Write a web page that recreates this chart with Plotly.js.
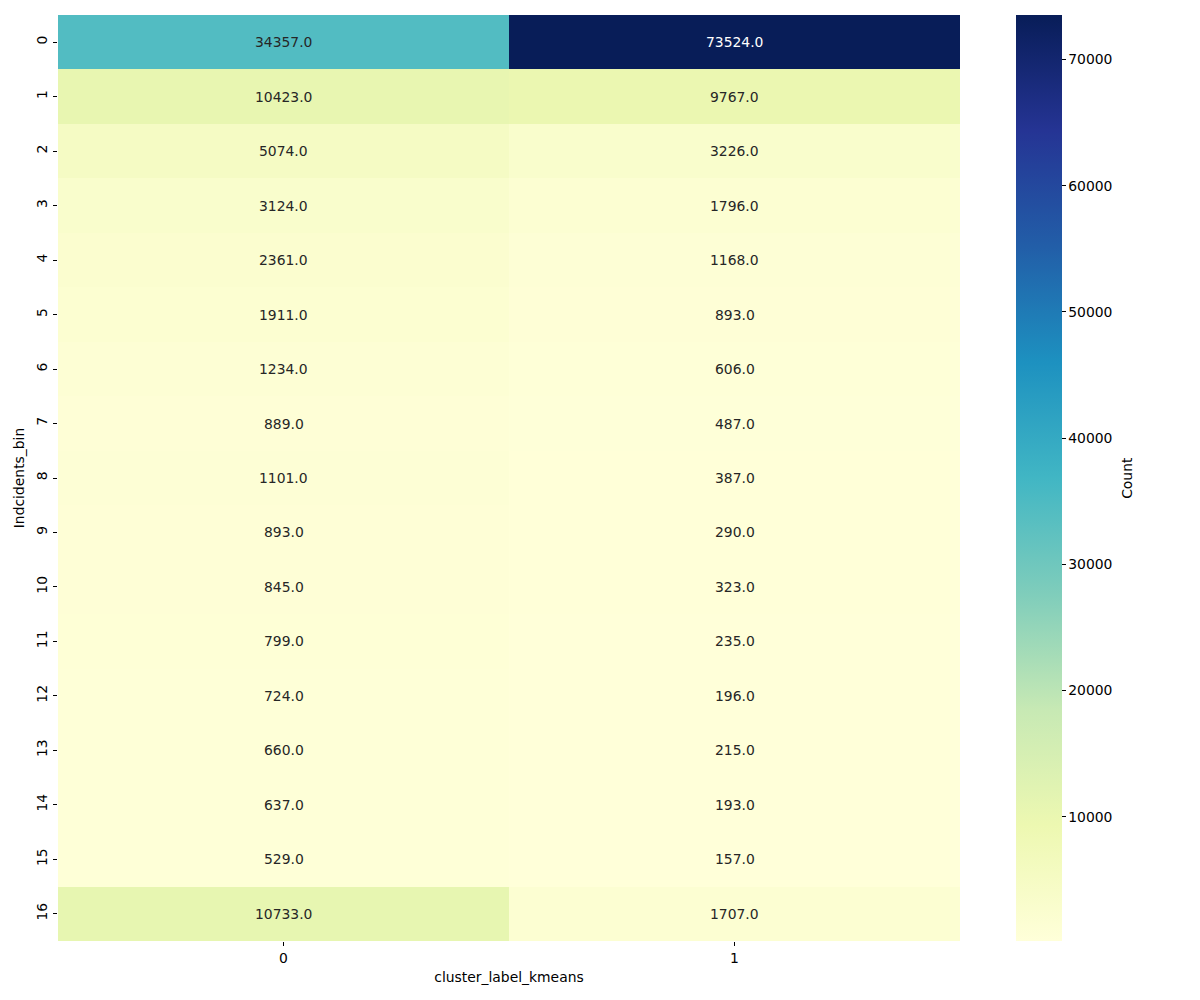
<!DOCTYPE html>
<html>
<head>
<meta charset="utf-8">
<script src="https://cdn.plot.ly/plotly-3.0.1.min.js"></script>
<style>html,body{margin:0;padding:0;background:#fff;}#chart{width:1200px;height:1000px;}</style>
</head>
<body>
<div id="chart"></div>
<script>
const clusters = ["0", "1"];
const bins = ["0","1","2","3","4","5","6","7","8","9","10","11","12","13","14","15","16"];
const cluster0 = [34357, 10423, 5074, 3124, 2361, 1911, 1234, 889, 1101, 893, 845, 799, 724, 660, 637, 529, 10733];
const cluster1 = [73524, 9767, 3226, 1796, 1168, 893, 606, 487, 387, 290, 323, 235, 196, 215, 193, 157, 1707];
const cbTicks = [10000, 20000, 30000, 40000, 50000, 60000, 70000];

const z = bins.map((b, i) => [cluster0[i], cluster1[i]]);
const allVals = cluster0.concat(cluster1);
const zmin = Math.min(...allVals);
const zmax = Math.max(...allVals);

const ylgnbu = [
  [0.0, '#ffffd9'], [0.125, '#edf8b1'], [0.25, '#c7e9b4'], [0.375, '#7fcdbb'],
  [0.5, '#41b6c4'], [0.625, '#1d91c0'], [0.75, '#225ea8'], [0.875, '#253494'], [1.0, '#081d58']
];

const FS = 13.9;
const annotations = [];
bins.forEach((b, i) => {
  [cluster0[i], cluster1[i]].forEach((v, j) => {
    const frac = (v - zmin) / (zmax - zmin);
    annotations.push({
      x: clusters[j], y: b, xref: 'x', yref: 'y',
      text: v.toFixed(1), showarrow: false,
      font: {family: 'DejaVu Sans', size: FS, color: frac > 0.6 ? '#ffffff' : '#262626'}
    });
  });
});
annotations.push({
  xref: 'paper', yref: 'paper', x: 1.185, y: 0.5, xanchor: 'center', yanchor: 'middle',
  text: 'Count', textangle: -90, showarrow: false,
  font: {family: 'DejaVu Sans', size: FS, color: '#000'}
});

const trace = {
  type: 'heatmap',
  x: clusters, y: bins, z: z,
  zmin: zmin, zmax: zmax,
  colorscale: ylgnbu,
  xgap: 0, ygap: 0,
  hoverinfo: 'z',
  colorbar: {
    x: 1.0621, xanchor: 'left', xref: 'paper',
    y: 0.5, yanchor: 'middle', len: 1, lenmode: 'fraction',
    thickness: 46, thicknessmode: 'pixels',
    outlinewidth: 0, xpad: 0, ypad: 0,
    tickmode: 'array',
    tickvals: cbTicks,
    ticktext: cbTicks.map(String),
    ticks: 'outside', ticklen: 4, tickwidth: 1, tickcolor: '#000',
    tickfont: {family: 'DejaVu Sans', size: FS, color: '#000'}
  }
};

const layout = {
  width: 1200, height: 1000,
  margin: {l: 58, r: 240, t: 15, b: 59},
  paper_bgcolor: '#ffffff', plot_bgcolor: '#ffffff',
  font: {family: 'DejaVu Sans', size: FS, color: '#000'},
  xaxis: {
    type: 'category', showgrid: false, zeroline: false, showline: false,
    ticks: 'outside', ticklen: 4, tickwidth: 1, tickcolor: '#000',
    tickfont: {family: 'DejaVu Sans', size: FS, color: '#000'},
    title: {text: 'cluster_label_kmeans', standoff: 7, font: {family: 'DejaVu Sans', size: FS, color: '#000'}}
  },
  yaxis: {
    type: 'category', autorange: 'reversed', showgrid: false, zeroline: false, showline: false,
    ticks: 'outside', ticklen: 4, tickwidth: 1, tickcolor: '#000', tickangle: -90,
    tickfont: {family: 'DejaVu Sans', size: FS, color: '#000'},
    title: {text: 'Indcidents_bin', standoff: 6, font: {family: 'DejaVu Sans', size: FS, color: '#000'}}
  },
  annotations: annotations
};

Plotly.newPlot('chart', [trace], layout, {displayModeBar: false, staticPlot: true});
</script>
</body>
</html>
